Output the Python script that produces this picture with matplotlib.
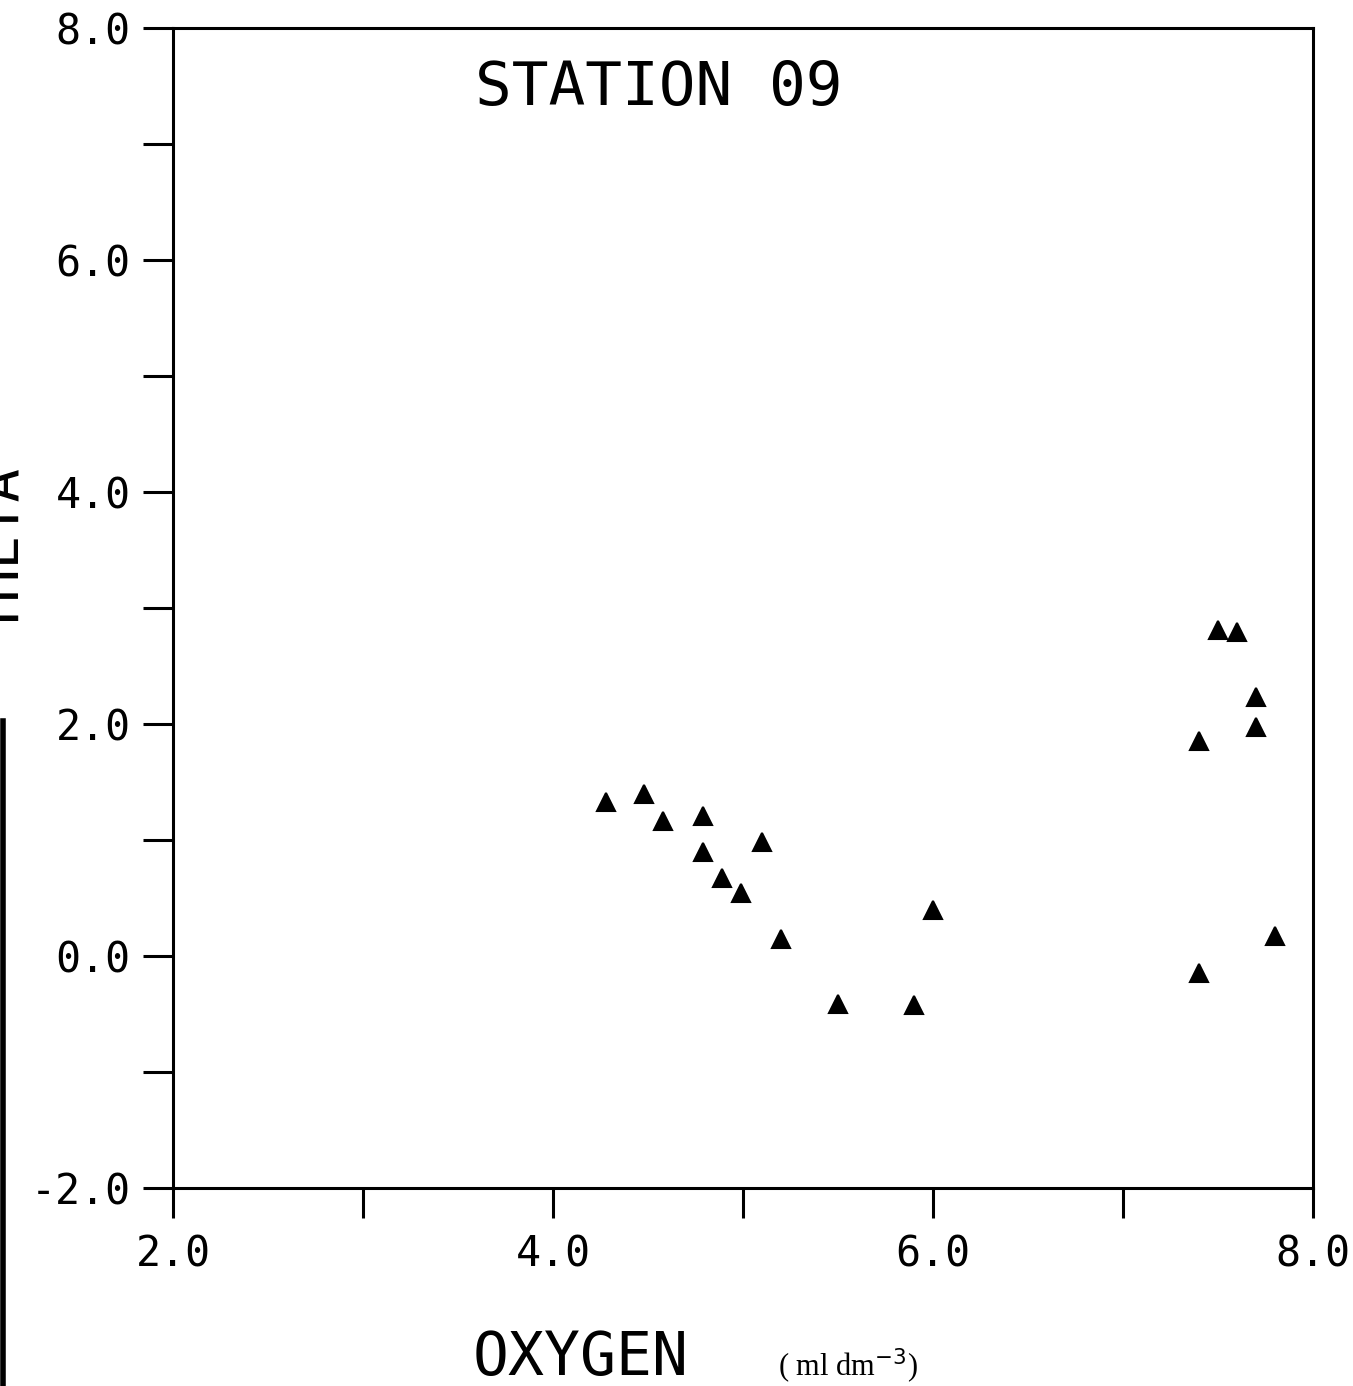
import matplotlib.pyplot as plt

# oxygen (ml dm-3) vs theta, station 09
oxygen = [4.28, 4.48, 4.58, 4.79, 4.79, 4.89, 4.99, 5.10, 5.20, 5.50, 5.90, 6.00,
          7.40, 7.50, 7.60, 7.70, 7.70, 7.40, 7.80]
theta = [1.33, 1.40, 1.16, 1.21, 0.90, 0.67, 0.54, 0.98, 0.15, -0.41, -0.42, 0.40,
         1.85, 2.81, 2.79, 2.23, 1.97, -0.15, 0.17]

x_major = [2.0, 4.0, 6.0, 8.0]
x_minor = [3.0, 5.0, 7.0]
y_major = [-2.0, 0.0, 2.0, 4.0, 6.0, 8.0]
y_minor = [-1.0, 1.0, 3.0, 5.0, 7.0]

mono = 'DejaVu Sans Mono'

fig = plt.figure(figsize=(13.53, 13.86), dpi=100)
ax = fig.add_axes([0.1279, 0.1429, 0.8425, 0.8369])

ax.plot(oxygen, theta, linestyle='none', marker='^', markersize=13,
        color='black', markeredgecolor='black', markeredgewidth=1.5)

ax.set_xlim(2.0, 8.0)
ax.set_ylim(-2.0, 8.0)
ax.set_xticks(x_major)
ax.set_xticks(x_minor, minor=True)
ax.set_yticks(y_major)
ax.set_yticks(y_minor, minor=True)
ax.set_xticklabels(['%.1f' % v for v in x_major], fontfamily=mono, fontsize=30)
ax.set_yticklabels(['%.1f' % v for v in y_major], fontfamily=mono, fontsize=30)

for s in ax.spines.values():
    s.set_linewidth(2.2)
ax.tick_params(axis='both', which='both', direction='out', length=21.5, width=2.2)
ax.tick_params(axis='x', which='major', pad=11)
ax.tick_params(axis='y', which='major', pad=9)

ax.text(0.426, 0.948, 'STATION 09', transform=ax.transAxes, fontfamily=mono,
        fontsize=44, ha='center', va='center')

fig.text(581 / 1353, 1 - 1359 / 1386, 'OXYGEN', fontfamily=mono, fontsize=43,
         ha='center', va='center')
fig.text(778 / 1353, 1 - 1366 / 1386, '( ml dm$^{-3}$)', fontfamily='Liberation Serif',
         fontsize=22, ha='left', va='center')

# y label, partly cut off at the page edge as in the scan
fig.text(2 / 1353, 1 - 550 / 1386, 'THETA', fontfamily=mono, fontsize=40,
         rotation=90, ha='center', va='center')

# dark scan edge on the left
fig.add_artist(plt.Line2D([0.002, 0.002], [0.0, 0.48], transform=fig.transFigure,
                          color='black', linewidth=4))

fig.savefig('out.png', dpi=100)
